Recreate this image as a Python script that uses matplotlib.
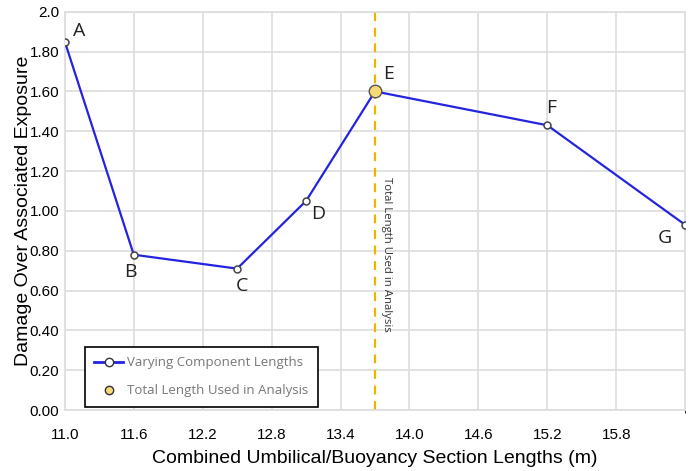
import matplotlib.pyplot as plt
from matplotlib.lines import Line2D

lengths = [11.0, 11.6, 12.5, 13.1, 13.7, 15.2, 16.4]
damage = [1.85, 0.78, 0.71, 1.05, 1.60, 1.43, 0.93]
point_names = ['A', 'B', 'C', 'D', 'E', 'F', 'G']
used_length = 13.7
used_damage = 1.60

x_ticks = [11.0, 11.6, 12.2, 12.8, 13.4, 14.0, 14.6, 15.2, 15.8]
y_ticks = [0.0, 0.2, 0.4, 0.6, 0.8, 1.0, 1.2, 1.4, 1.6, 1.8, 2.0]
y_labels = ['0.00', '0.20', '0.40', '0.60', '0.80', '1.00', '1.20', '1.40', '1.60', '1.80', '2.0']

# label offsets in points
offsets = {'A': (6, 1), 'B': (-7, -19), 'C': (-1, -19), 'D': (4, -16),
           'E': (6, 6), 'F': (-1, 6), 'G': (-20, -16)}

plt.rcParams['font.family'] = ['Liberation Sans', 'DejaVu Sans']

fig = plt.figure(figsize=(6.97, 4.71), dpi=100)
ax = fig.add_axes([0.093, 0.1295, 0.890, 0.8455])

ax.plot(lengths, damage, color='#2424e0', lw=1.6, marker='o', ms=5,
        mfc='white', mec='#444444', mew=1.1, zorder=3)
ax.plot([used_length], [used_damage], 'o', ms=9, mfc='#f7d978',
        mec='#555555', mew=1.0, zorder=4)
ax.axvline(used_length, color='#f0b400', ls=(0, (4, 3)), lw=1.6, zorder=2)
ax.text(used_length + 0.05, 1.17, 'Total Length Used in Analysis', rotation=-90,
        ha='left', va='top', fontsize=8.2, color='#333333', family=['Open Sans', 'DejaVu Sans'])

for name, x, y in zip(point_names, lengths, damage):
    ax.annotate(name, (x, y), xytext=offsets[name], textcoords='offset points',
                fontsize=14, color='#222222', ha='left', va='bottom',
                family=['Open Sans', 'DejaVu Sans'])

ax.set_xlim(11.0, 16.4)
ax.set_ylim(0, 2.0)
ax.set_xticks(x_ticks)
ax.set_xticklabels([f'{t:.1f}' for t in x_ticks])
ax.set_yticks(y_ticks)
ax.set_yticklabels(y_labels)
ax.set_xticks([16.4], minor=True)
ax.grid(True, which='both', color='#dddddd', lw=1.2)
ax.set_axisbelow(True)
for s in ax.spines.values():
    s.set_color('#dddddd')
    s.set_linewidth(1.2)
ax.tick_params(length=0, labelsize=11, pad=13)
ax.tick_params(axis='y', pad=4)

ax.set_xlabel('Combined Umbilical/Buoyancy Section Lengths (m)', fontsize=14, labelpad=6)
ax.set_ylabel('Damage Over Associated Exposure', fontsize=14, labelpad=-2)

handles = [
    Line2D([], [], color='#2424e0', lw=2, marker='o', ms=6, mfc='white', mec='#333333'),
    Line2D([], [], ls='none', marker='o', ms=6, mfc='#f7d978', mec='#333333'),
]
leg = ax.legend(handles, ['Varying Component Lengths', 'Total Length Used in Analysis'],
                loc='lower left', bbox_to_anchor=(0.022, -0.008), fancybox=False,
                edgecolor='black', framealpha=1, handlelength=2.2, handletextpad=0.3,
                prop={'family': 'Open Sans', 'size': 9.5}, borderpad=0.7, labelspacing=1.15)
leg.get_frame().set_linewidth(1.2)
for t in leg.get_texts():
    t.set_color('#777777')

fig.savefig('out.png', dpi=100)
